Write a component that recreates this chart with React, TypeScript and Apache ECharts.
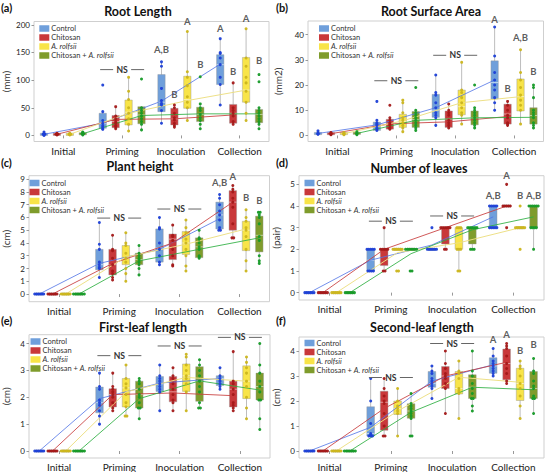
import React, { useEffect, useRef } from 'react';
import * as echarts from 'echarts';

const CATEGORIES = ['Initial', 'Priming', 'Inoculation', 'Collection'];
const GROUPS = ['Control', 'Chitosan', 'A. rolfsii', 'Chitosan + A. rolfsii'];

// ---------- (a) Root Length (mm) ----------  [group][category] = [min, q1, median, q3, max]
const rootLengthBoxes = [
  [[0, 1, 2, 3, 6], [11, 13, 22, 40, 44], [22, 43, 60, 110, 133], [55, 92, 128, 146, 175]],
  [[0, 1, 2, 3, 4], [12, 14, 25, 36, 52], [15, 19, 30, 49, 55], [20, 22, 40, 56, 95]],
  [[0, 1, 2, 3, 5], [8, 19, 42, 64, 105], [27, 49, 65, 107, 188], [27, 60, 82, 141, 193]],
  [[1, 2, 3, 4, 6], [10, 21, 37, 52, 52], [12, 25, 38, 51, 57], [12, 23, 38, 47, 50]],
];
const rootLengthPoints = [
  [[0, 2, 2, 3, 6], [11, 12, 15, 18, 22, 27, 43, 91], [22, 45, 55, 58, 63, 85, 125, 133], [55, 92, 105, 128, 140, 148, 150, 175]],
  [[1, 2, 2, 3, 4], [12, 15, 18, 22, 25, 30, 35, 52], [15, 18, 22, 28, 32, 40, 50, 55], [20, 25, 35, 40, 45, 50, 95]],
  [[1, 2, 2, 3, 4], [8, 20, 30, 40, 50, 65, 80, 105], [27, 50, 60, 70, 90, 105, 115, 188], [27, 40, 60, 80, 95, 105, 125, 140, 193]],
  [[1, 2, 3, 3, 5, 6], [10, 20, 25, 30, 35, 40, 45, 50, 102], [12, 20, 27, 32, 38, 45, 50, 57, 106], [12, 20, 25, 30, 35, 40, 45, 50, 97, 110]],
];
const rootLengthMeans = [[2, 22, 62, 129], [2, 29, 30, 37], [2, 40, 63, 82], [3, 36, 39, 39]];
const rootLengthLetters = [[2, 0, 155, 'A,B'], [2, 1, 74, 'B'], [2, 2, 206, 'A'], [2, 3, 128, 'B'], [3, 0, 194, 'A'], [3, 1, 115, 'B'], [3, 2, 212, 'A'], [3, 3, 135, 'B']];
const rootLengthNS = [[1, 119]];
const rootLengthTicks = [0, 50, 100, 150, 200];

// ---------- (b) Root Surface Area (mm2) ----------
const surfaceBoxes = [
  [[0.5, 0.5, 0.8, 1.0, 1.8], [2, 2, 3.8, 5.3, 6], [4, 7.2, 10, 16.3, 24], [10, 14.5, 21, 29.6, 43]],
  [[0.3, 0.4, 0.7, 1.0, 1.2], [2.3, 2.5, 4.8, 6.4, 7], [3, 3.2, 6.5, 9.7, 12.5], [4, 4.5, 8.5, 12.4, 13.5]],
  [[0.3, 0.5, 0.7, 1.0, 1.2], [1.5, 3.2, 5.5, 8.4, 14], [4.5, 8.2, 11.4, 18, 29], [4.5, 9.7, 15.4, 22.4, 34]],
  [[0.3, 0.5, 0.8, 1.2, 1.5], [2, 3.2, 6.3, 9.5, 10.5], [3, 4.2, 7, 9.7, 11], [3, 4.5, 7.9, 11, 20]],
];
const surfacePoints = [
  [[0.5, 0.6, 0.8, 1.0, 1.8], [2, 2.5, 3, 4, 4.5, 5, 6, 13.5], [4, 7, 8, 9, 11, 13, 16, 17, 24], [10, 13, 15, 18, 20, 22, 25, 31.5, 43]],
  [[0.3, 0.5, 0.7, 1.0, 1.2], [2.5, 3, 4, 4.5, 5, 6, 7, 12], [3, 4, 5, 6, 8, 9, 10, 12.5], [4, 4.5, 5, 7, 8, 10, 12, 13.5]],
  [[0.3, 0.5, 0.7, 0.9, 1.2], [1.5, 3, 4, 5, 6, 7, 9, 13, 14], [4.5, 8, 9, 11, 13, 15, 17, 18, 29], [4.5, 10, 12, 14, 16, 19, 22, 25, 34]],
  [[0.3, 0.6, 0.8, 1.0, 1.5], [2, 3, 4, 5, 6, 7, 8, 9, 10, 19], [3, 4, 5, 6, 7, 8, 9, 10, 11, 20], [3, 4, 5, 7, 8, 9, 10, 15, 19, 20]],
];
const surfaceMeans = [[0.8, 4.2, 11, 22], [0.7, 4.6, 5.4, 7.5], [0.7, 5.8, 13, 15.4], [0.8, 6, 7, 7.2]];
const surfaceLetters = [[3, 0, 45.9, 'A'], [3, 1, 18.7, 'B'], [3, 2, 38.8, 'A,B'], [3, 3, 25.3, 'B']];
const surfaceNS = [[1, 21.7], [2, 31.8]];
const surfaceTicks = [0, 10, 20, 30, 40];

// ---------- (c) Plant height (cm) ----------
const heightBoxes = [
  [[0, 0, 0, 0, 0], [1.3, 1.9, 2.3, 3.5, 5.6], [2.3, 2.5, 3.6, 5.1, 6.0], [5.0, 5.1, 6.2, 7.2, 7.8]],
  [[0, 0, 0, 0, 0], [1.1, 1.5, 2.3, 3.5, 4.6], [2.2, 2.7, 4.3, 4.7, 5.4], [4.4, 5.0, 7.2, 8.1, 8.5]],
  [[0, 0, 0, 0, 0], [1.0, 2.3, 2.8, 3.8, 4.8], [1.8, 3.1, 4.0, 4.9, 5.8], [1.8, 3.4, 5.0, 5.7, 6.6]],
  [[0, 0, 0, 0, 0], [1.5, 2.3, 2.7, 3.2, 3.8], [2.8, 2.85, 3.7, 4.4, 5.0], [2.4, 3.3, 4.6, 6.1, 6.4]],
];
const heightPoints = [
  [[0, 0, 0, 0, 0, 0], [1.3, 2.0, 2.1, 2.3, 2.5, 3.5, 3.9, 5.6], [2.3, 2.5, 3.0, 3.5, 4.0, 5.1, 5.2, 6.0], [5.0, 5.0, 5.2, 5.8, 6.2, 6.5, 7.0, 7.5, 7.8]],
  [[0, 0, 0, 0, 0, 0], [1.1, 1.3, 1.6, 1.8, 2.3, 2.8, 3.4, 3.5, 4.6], [2.2, 2.3, 3.0, 3.5, 4.2, 4.5, 4.6, 5.4], [4.4, 4.4, 5.5, 6.8, 7.2, 7.5, 8.0, 8.2, 8.5]],
  [[0, 0, 0, 0, 0, 0], [1.0, 1.6, 2.0, 2.5, 2.8, 3.2, 3.8, 4.0, 4.8], [1.8, 2.2, 3.0, 3.5, 4.0, 4.3, 4.8, 5.2, 5.8], [1.8, 2.6, 3.5, 4.5, 5.0, 5.2, 5.7, 6.0, 6.6]],
  [[0, 0, 0, 0, 0, 0, 0], [1.5, 2.0, 2.3, 2.5, 2.7, 2.8, 3.0, 3.2, 3.8], [2.8, 2.9, 3.0, 3.5, 3.7, 4.0, 4.3, 4.4, 5.0], [2.4, 2.6, 3.0, 4.2, 4.5, 5.5, 6.0, 6.2, 6.4, 6.4]],
];
const heightMeans = [[0, 2.4, 3.5, 5.9], [0, 2.4, 4.0, 7.2], [0, 2.9, 3.9, 5.1], [0, 2.6, 3.5, 4.4]];
const heightLetters = [[3, 0, 8.7, 'A,B'], [3, 1, 9.2, 'A'], [3, 2, 7.55, 'B'], [3, 3, 7.36, 'B']];
const heightNS = [[1, 5.95], [2, 6.66]];
const heightTicks = [0, 1, 2, 3, 4, 5, 6, 7, 8, 9];

// ---------- (d) Number of leaves (pair) ----------
const leavesBoxes = [
  [[0, 0, 0, 0, 0], [1, 1, 1.5, 2, 2], [2, 2, 2, 2, 2], [3, 3, 4, 4, 4]],
  [[0, 0, 0, 0, 0], [1, 1.25, 2, 2, 3], [2, 2.25, 3, 3, 3], [4, 4, 4, 4, 4]],
  [[0, 0, 0, 0, 0], [2, 2, 2, 2, 2], [1, 2, 2, 3, 3], [3, 3, 3, 3, 3]],
  [[0, 0, 0, 0, 0], [2, 2, 2, 2, 2], [2, 2.25, 3, 3, 3], [2, 3, 4, 4, 4]],
];
const leavesPoints = [
  [[0, 0, 0, 0, 0, 0], [1, 1, 1, 1, 2, 2, 2, 2, 2], [2, 2, 2, 2, 2, 2, 3], [3, 3, 3, 3, 3, 4, 4, 4, 4, 4]],
  [[0, 0, 0, 0, 0, 0], [1, 1, 2, 2, 2, 2, 2, 3], [2, 2, 3, 3, 3, 3, 3, 3], [3, 4, 4, 4, 4, 4, 5]],
  [[0, 0, 0, 0, 0, 0], [1, 1, 2, 2, 2, 2, 2, 2], [1, 1, 2, 2, 2, 3, 3, 3], [2, 3, 3, 3, 3, 3, 3, 4]],
  [[0, 0, 0, 0, 0, 0], [1, 1, 2, 2, 2, 2, 2, 2, 2], [2, 2, 2, 3, 3, 3, 3, 3, 3], [2, 3, 3, 3, 3, 4, 4, 4, 4, 4, 4]],
];
const leavesMeans = [[0, 1.5, 2.2, 3.5], [0, 2.0, 3.0, 4.0], [0, 1.85, 2.3, 3.0], [0, 1.8, 2.9, 3.5]];
const leavesLetters = [[3, 0, 4.47, 'A,B'], [3, 1, 5.4, 'A'], [3, 2, 4.47, 'B'], [3, 3, 4.47, 'A,B']];
const leavesNS = [[1, 3.3], [2, 3.54]];
const leavesTicks = [0, 1, 2, 3, 4, 5];

// ---------- (e) First-leaf length (cm) ----------
const firstLeafBoxes = [
  [[0, 0, 0, 0, 0], [1.0, 1.42, 1.8, 2.38, 2.9], [1.5, 2.22, 2.5, 2.77, 3.2], [2.3, 2.44, 2.7, 2.8, 3.1]],
  [[0, 0, 0, 0, 0], [1.5, 1.64, 2.1, 2.32, 2.9], [1.5, 1.83, 2.2, 2.77, 3.1], [1.5, 1.64, 2.3, 2.6, 3.7]],
  [[0, 0, 0, 0, 0], [1.3, 1.64, 2.35, 2.7, 3.2], [1.5, 2.22, 2.8, 3.24, 3.6], [1.2, 1.95, 2.6, 3.17, 3.5]],
  [[0, 0, 0, 0, 0], [1.2, 1.6, 2.1, 2.6, 2.7], [1.6, 1.85, 2.6, 3.14, 3.4], [0.8, 1.9, 2.4, 2.9, 4.0]],
];
const firstLeafPoints = [
  [[0, 0, 0, 0, 0, 0], [1.0, 1.3, 1.5, 1.7, 1.8, 1.9, 2.3, 2.4, 2.9], [1.5, 2.2, 2.3, 2.4, 2.5, 2.6, 2.7, 2.8, 3.2], [2.3, 2.4, 2.5, 2.6, 2.7, 2.8, 3.1]],
  [[0, 0, 0, 0, 0, 0], [1.5, 1.6, 1.8, 2.0, 2.1, 2.2, 2.3, 2.4, 2.9], [1.5, 1.8, 1.9, 2.1, 2.3, 2.5, 2.7, 2.8, 3.1], [1.5, 1.6, 1.7, 1.8, 2.1, 2.3, 2.5, 2.6, 3.7]],
  [[0, 0, 0, 0, 0, 0], [1.3, 1.3, 1.65, 1.8, 2.1, 2.35, 2.5, 2.7, 3.2], [1.5, 2.2, 2.5, 2.7, 2.8, 3.0, 3.2, 3.5, 3.6], [1.2, 1.6, 2.0, 2.4, 2.6, 2.9, 3.1, 3.3, 3.5]],
  [[0, 0, 0, 0, 0, 0, 0], [1.2, 1.6, 1.6, 1.8, 2.0, 2.1, 2.3, 2.5, 2.6, 2.7], [1.6, 1.6, 1.8, 2.2, 2.4, 2.6, 2.8, 3.0, 3.2, 3.4], [0.8, 1.2, 1.9, 1.9, 2.2, 2.4, 2.6, 2.9, 3.2, 4.0]],
];
const firstLeafMeans = [[0, 1.95, 2.53, 2.7], [0, 2.1, 2.16, 2.06], [0, 2.2, 2.74, 2.6], [0, 1.95, 2.61, 2.27]];
const firstLeafLetters = [];
const firstLeafNS = [[1, 3.55], [2, 3.91], [3, 4.23]];
const firstLeafTicks = [0, 1, 2, 3, 4];

// ---------- (f) Second-leaf length (cm) ----------
const secondLeafBoxes = [
  [[0, 0, 0, 0, 0], [0.6, 0.6, 0.7, 1.77, 2.9], [2.1, 2.55, 2.7, 3.18, 3.4], [3.0, 3.11, 3.4, 3.73, 4.1]],
  [[0, 0, 0, 0, 0], [0.6, 0.83, 1.95, 2.39, 2.9], [1.5, 2.5, 3.0, 3.38, 4.0], [2.7, 2.85, 3.5, 4.08, 4.3]],
  [[0, 0, 0, 0, 0], [0.6, 1.46, 1.7, 2.0, 2.5], [1.3, 2.28, 2.5, 3.18, 3.6], [1.3, 2.02, 2.7, 3.31, 3.6]],
  [[0, 0, 0, 0, 0], [0.6, 1.31, 1.6, 1.89, 2.3], [1.6, 2.1, 2.55, 3.05, 4.0], [1.5, 2.1, 2.5, 3.18, 3.7]],
];
const secondLeafPoints = [
  [[0, 0, 0, 0, 0, 0], [0.6, 0.6, 0.6, 0.65, 0.7, 1.1, 2.0, 2.9], [2.1, 2.5, 2.6, 2.7, 2.8, 2.9, 3.1, 3.2, 3.4], [3.0, 3.1, 3.2, 3.3, 3.4, 3.5, 3.6, 3.8, 4.1]],
  [[0, 0, 0, 0, 0, 0], [0.6, 0.6, 1.0, 1.5, 1.9, 2.0, 2.2, 2.5, 2.9], [1.5, 2.5, 2.7, 2.9, 3.0, 3.1, 3.3, 3.5, 4.0], [2.7, 2.8, 3.1, 3.3, 3.5, 3.8, 4.1, 4.2, 4.3]],
  [[0, 0, 0, 0, 0, 0], [0.6, 1.5, 1.6, 1.7, 1.8, 2.0, 2.5], [1.3, 2.3, 2.4, 2.5, 2.9, 3.1, 3.2, 3.6], [1.3, 1.8, 2.2, 2.5, 2.7, 3.0, 3.3, 3.4, 3.6]],
  [[0, 0, 0, 0, 0, 0, 0], [0.6, 0.6, 1.3, 1.4, 1.5, 1.6, 1.7, 1.8, 1.9, 2.3], [1.6, 1.8, 2.1, 2.1, 2.3, 2.5, 2.7, 3.0, 3.2, 4.0], [1.5, 2.1, 2.1, 2.2, 2.5, 2.6, 2.8, 3.1, 3.2, 3.7]],
];
const secondLeafMeans = [[0, 0.95, 2.8, 3.45], [0, 1.7, 3.0, 3.55], [0, 1.6, 2.95, 2.75], [0, 1.55, 2.55, 2.45]];
const secondLeafLetters = [[3, 0, 4.47, 'A'], [3, 1, 4.66, 'A'], [3, 2, 4.04, 'B'], [3, 3, 4.27, 'B']];
const secondLeafNS = [[1, 2.94], [2, 4.3]];
const secondLeafTicks = [0, 1, 2, 3, 4];

// ---------- styling / layout ----------
const FONT = 'Lato';
const FILL = ['#6F9FDB', '#C9383A', '#F8E448', '#7F9C2C'];
const POINT = ['#1c3fd6', '#a31818', '#cbb51c', '#159a27'];
const LINE = ['rgba(80,115,230,0.8)', 'rgba(200,60,60,0.85)', 'rgba(236,222,130,0.95)', 'rgba(45,175,65,0.85)'];
const OFFSET = [-0.33, -0.11, 0.11, 0.33];
const BOX_W = 0.125;
const TIE_STEP = 0.03;

const PANELS = [
  { tag: '(a)', title: 'Root Length', unit: '(mm)', boxes: rootLengthBoxes, points: rootLengthPoints, means: rootLengthMeans, letters: rootLengthLetters, ns: rootLengthNS, ticks: rootLengthTicks, yMin: -11, yMax: 206, grid: [30.5, 21.5, 238.5, 120], legend: [39.3, 24], titleAt: [138, 11], tagAt: [1, 7], nameGap: 23 },
  { tag: '(b)', title: 'Root Surface Area', unit: '(mm2)', boxes: surfaceBoxes, points: surfacePoints, means: surfaceMeans, letters: surfaceLetters, ns: surfaceNS, ticks: surfaceTicks, yMin: -2.4, yMax: 45.4, grid: [308, 21, 235.5, 120.5], legend: [319, 24], titleAt: [431, 11], tagAt: [276, 7], nameGap: 25 },
  { tag: '(c)', title: 'Plant height', unit: '(cm)', boxes: heightBoxes, points: heightPoints, means: heightMeans, letters: heightLetters, ns: heightNS, ticks: heightTicks, yMin: -0.6, yMax: 9.27, grid: [26, 175.7, 243.5, 126], legend: [29.5, 178.5], titleAt: [140, 166.5], tagAt: [1, 162], nameGap: 18 },
  { tag: '(d)', title: 'Number of leaves', unit: '(pair)', boxes: leavesBoxes, points: leavesPoints, means: leavesMeans, letters: leavesLetters, ns: leavesNS, ticks: leavesTicks, yMin: -0.34, yMax: 5.4, grid: [299, 175.7, 245, 124.3], legend: [304.5, 178.5], titleAt: [419, 168], tagAt: [276, 162], nameGap: 18 },
  { tag: '(e)', title: 'First-leaf length', unit: '(cm)', boxes: firstLeafBoxes, points: firstLeafPoints, means: firstLeafMeans, letters: firstLeafLetters, ns: firstLeafNS, ticks: firstLeafTicks, yMin: -0.26, yMax: 4.33, grid: [26, 334.7, 244, 124.6], legend: [30.5, 337], titleAt: [143, 327], tagAt: [1, 320], nameGap: 18 },
  { tag: '(f)', title: 'Second-leaf length', unit: '(cm)', boxes: secondLeafBoxes, points: secondLeafPoints, means: secondLeafMeans, letters: secondLeafLetters, ns: secondLeafNS, ticks: secondLeafTicks, yMin: -0.28, yMax: 4.56, grid: [299, 337, 245, 122.3], legend: [304.5, 338.5], titleAt: [422, 327], tagAt: [276, 320], nameGap: 18 },
];

const CAT_TICKS = [0.5, 1.5, 2.5, 3.5];

function boxRenderer(params: any, api: any) {
  const x = api.value(0);
  const lo = api.coord([x, api.value(1)]);
  const q1 = api.coord([x, api.value(2)]);
  const md = api.coord([x, api.value(3)]);
  const q3 = api.coord([x, api.value(4)]);
  const hi = api.coord([x, api.value(5)]);
  const w = api.size([BOX_W, 0])[0];
  const fill = api.visual('color');
  let top = q3[1];
  let h = q1[1] - q3[1];
  if (h < 2.2) {
    top = (q1[1] + q3[1]) / 2 - 1.1;
    h = 2.2;
  }
  const children: any[] = [];
  if (hi[1] < lo[1] - 0.5) {
    children.push({ type: 'line', shape: { x1: lo[0], y1: lo[1], x2: hi[0], y2: hi[1] }, style: { stroke: '#bdbdbd', lineWidth: 1 } });
  }
  children.push({ type: 'rect', shape: { x: q1[0] - w / 2, y: top, width: w, height: h }, style: { fill, stroke: 'rgba(150,150,150,0.7)', lineWidth: 0.6 } });
  if (q1[1] - q3[1] > 3) {
    children.push({ type: 'line', shape: { x1: q1[0] - w / 2, y1: md[1], x2: q1[0] + w / 2, y2: md[1] }, style: { stroke: 'rgba(255,255,255,0.5)', lineWidth: 1 } });
  }
  return { type: 'group', children };
}

function nsRenderer(params: any, api: any) {
  const p = api.coord([api.value(0), api.value(1)]);
  const stroke = '#666';
  return {
    type: 'group',
    children: [
      { type: 'line', shape: { x1: p[0] - 22, y1: p[1], x2: p[0] - 9, y2: p[1] }, style: { stroke, lineWidth: 1 } },
      { type: 'line', shape: { x1: p[0] + 9, y1: p[1], x2: p[0] + 22, y2: p[1] }, style: { stroke, lineWidth: 1 } },
      { type: 'text', style: { text: 'NS', x: p[0], y: p[1], align: 'center', verticalAlign: 'middle', font: `bold 8.6px ${FONT}`, fill: '#333' } },
    ],
  };
}

function spreadTies(values: number[], center: number) {
  const counts: Record<string, number> = {};
  values.forEach((v) => { counts[String(v)] = (counts[String(v)] || 0) + 1; });
  const seen: Record<string, number> = {};
  return values.map((v) => {
    const key = String(v);
    const n = counts[key];
    const k = seen[key] || 0;
    seen[key] = k + 1;
    return [center + (k - (n - 1) / 2) * TIE_STEP, v];
  });
}

function legendFormatter(name: string) {
  if (name === 'A. rolfsii') return '{i|A. rolfsii}';
  if (name === 'Chitosan + A. rolfsii') return 'Chitosan + {i|A. rolfsii}';
  return name;
}

function buildOption() {
  const grid: any[] = [];
  const xAxis: any[] = [];
  const yAxis: any[] = [];
  const series: any[] = [];
  const legend: any[] = [];
  const graphic: any[] = [];

  PANELS.forEach((p, i) => {
    grid.push({ left: p.grid[0], top: p.grid[1], width: p.grid[2], height: p.grid[3], show: true, borderColor: '#cfcfcf', borderWidth: 1, containLabel: false });
    xAxis.push({
      gridIndex: i, type: 'value', min: 0, max: 4,
      splitLine: { show: false }, axisLine: { show: false },
      axisTick: { show: true, customValues: CAT_TICKS, length: 3, lineStyle: { color: '#999' } },
      axisLabel: { customValues: CAT_TICKS, formatter: (v: number) => CATEGORIES[Math.round(v - 0.5)] ?? '', fontSize: 10, color: '#222', margin: 4, fontFamily: FONT },
    });
    yAxis.push({
      gridIndex: i, type: 'value', min: p.yMin, max: p.yMax,
      name: p.unit, nameLocation: 'middle', nameGap: p.nameGap,
      nameTextStyle: { fontSize: 10, color: '#333', fontFamily: FONT },
      splitLine: { show: false }, axisLine: { show: false },
      axisTick: { show: true, customValues: p.ticks, length: 2.5, lineStyle: { color: '#999' } },
      axisLabel: { customValues: p.ticks, fontSize: 8, color: '#222', margin: 4, fontFamily: FONT },
    });

    GROUPS.forEach((g, gi) => {
      series.push({
        type: 'custom', name: g, xAxisIndex: i, yAxisIndex: i,
        renderItem: boxRenderer,
        itemStyle: { color: FILL[gi] },
        encode: { x: 0, y: [1, 2, 3, 4, 5] },
        data: p.boxes[gi].map((b: number[], c: number) => [c + 0.5 + OFFSET[gi], ...b]),
        z: 2, silent: true,
      });
    });
    GROUPS.forEach((g, gi) => {
      series.push({
        type: 'line', xAxisIndex: i, yAxisIndex: i, symbol: 'none', silent: true,
        lineStyle: { color: LINE[gi], width: 1 },
        data: p.means[gi].map((m: number, c: number) => [c + 0.5 + OFFSET[gi], m]),
        z: 3,
      });
    });
    GROUPS.forEach((g, gi) => {
      const pts: number[][] = [];
      p.points[gi].forEach((vals: number[], c: number) => {
        spreadTies(vals, c + 0.5 + OFFSET[gi]).forEach((pt) => pts.push(pt));
      });
      series.push({
        type: 'scatter', xAxisIndex: i, yAxisIndex: i, symbolSize: 3, silent: true,
        itemStyle: { color: POINT[gi], opacity: 0.95 },
        data: pts, z: 4,
      });
    });
    if (p.letters.length) {
      series.push({
        type: 'scatter', xAxisIndex: i, yAxisIndex: i, symbolSize: 0, silent: true, clip: false,
        label: { show: true, position: 'inside', formatter: '{b}', fontSize: 9.5, fontWeight: 'bold', color: '#333', fontFamily: FONT },
        data: p.letters.map((l: any[]) => ({ name: l[3], value: [l[0] + 0.5 + OFFSET[l[1]], l[2]] })),
        z: 5,
      });
    }
    series.push({
      type: 'custom', xAxisIndex: i, yAxisIndex: i, renderItem: nsRenderer, silent: true,
      encode: { x: 0, y: 1 },
      data: p.ns.map((n: number[]) => [n[0] + 0.5, n[1]]),
      z: 5,
    });

    legend.push({
      left: p.legend[0], top: p.legend[1], orient: 'vertical', data: GROUPS, icon: 'rect',
      itemWidth: 10, itemHeight: 6.5, itemGap: 0, padding: 0, selectedMode: false,
      formatter: legendFormatter,
      textStyle: {
        fontSize: 7.5, color: '#333', fontFamily: FONT, lineHeight: 9, padding: [0, 0, 0, -3],
        rich: { i: { fontStyle: 'italic', fontSize: 7.5, color: '#333', fontFamily: FONT, lineHeight: 9 } },
      },
    });

    graphic.push({ type: 'text', x: p.titleAt[0], y: p.titleAt[1], style: { text: p.title, font: `bold 12.5px ${FONT}`, fill: '#111', align: 'center', verticalAlign: 'middle' } });
    graphic.push({ type: 'text', x: p.tagAt[0], y: p.tagAt[1], style: { text: p.tag, font: `bold 11px ${FONT}`, fill: '#111', align: 'left', verticalAlign: 'middle' } });
  });

  return { animation: false, backgroundColor: '#ffffff', grid, xAxis, yAxis, series, legend, graphic };
}

export default function App() {
  const ref = useRef<HTMLDivElement>(null);
  useEffect(() => {
    if (!ref.current) return;
    const chart = echarts.init(ref.current, null, { renderer: 'svg' });
    chart.setOption(buildOption() as any);
    return () => chart.dispose();
  }, []);
  return <div ref={ref} style={{ position: 'absolute', left: 0, top: 0, width: 548, height: 472 }} />;
}
